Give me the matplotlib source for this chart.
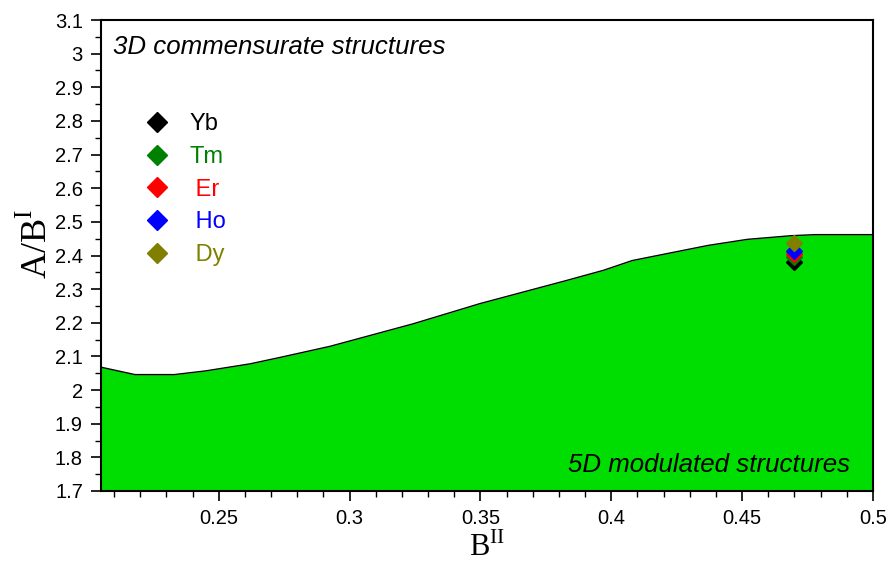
import matplotlib
matplotlib.use("Agg")
import matplotlib.pyplot as plt

# Phase boundary between the 5D modulated and 3D commensurate regions
boundary_x = [0.205, 0.218, 0.233, 0.245, 0.262, 0.2734, 0.2925, 0.3243, 0.3498,
              0.383, 0.397, 0.408, 0.437, 0.452, 0.469, 0.478, 0.5]
boundary_y = [2.068, 2.046, 2.046, 2.057, 2.078, 2.097, 2.130, 2.197, 2.257,
              2.326, 2.356, 2.385, 2.430, 2.448, 2.459, 2.462, 2.462]

# Rare-earth compounds
elements = ["Yb", "Tm", "Er", "Ho", "Dy"]
legend_labels = ["Yb", "Tm", " Er", " Ho", " Dy"]
elem_x = [0.47, 0.47, 0.47, 0.47, 0.47]
elem_y = [2.382, 2.396, 2.405, 2.412, 2.437]
elem_colors = ["#000000", "#008000", "#ff0000", "#0000ff", "#808000"]

x_ticks = [0.25, 0.3, 0.35, 0.4, 0.45, 0.5]
x_ticklabels = ["0.25", "0.3", "0.35", "0.4", "0.45", "0.5"]
y_ticks = [1.7, 1.8, 1.9, 2.0, 2.1, 2.2, 2.3, 2.4, 2.5, 2.6, 2.7, 2.8, 2.9, 3.0, 3.1]
y_ticklabels = ["1.7", "1.8", "1.9", "2", "2.1", "2.2", "2.3", "2.4", "2.5",
                "2.6", "2.7", "2.8", "2.9", "3", "3.1"]

plt.rcParams["font.family"] = ["Liberation Sans", "DejaVu Sans"]
plt.rcParams["mathtext.fontset"] = "custom"
plt.rcParams["mathtext.rm"] = "Liberation Serif"

fig = plt.figure(figsize=(8.9, 5.63), dpi=100)
ax = fig.add_axes([101 / 890, 72 / 563, 772 / 890, 471 / 563])

ax.fill_between(boundary_x, 1.7, boundary_y, color="#00dd00", linewidth=0, zorder=1)
ax.plot(boundary_x, boundary_y, color="black", linewidth=1.0, zorder=2)

for name, lab, x, y, c in zip(elements, legend_labels, elem_x, elem_y, elem_colors):
    ax.plot([x], [y], linestyle="none", marker="D", markersize=8.5,
            color=c, label=lab, zorder=3)

ax.set_xlim(0.205, 0.5)
ax.set_ylim(1.7, 3.1)
ax.set_xticks(x_ticks)
ax.set_xticklabels(x_ticklabels)
ax.set_yticks(y_ticks)
ax.set_yticklabels(y_ticklabels)
ax.set_xticks([0.21 + 0.01 * i for i in range(30)], minor=True)
ax.set_yticks([1.75 + 0.1 * i for i in range(14)], minor=True)
ax.tick_params(axis="both", which="major", direction="out", length=7, width=1.2,
               labelsize=14.5, top=False, right=False)
ax.tick_params(axis="both", which="minor", direction="out", length=4, width=1.0,
               top=False, right=False)
ax.tick_params(axis="x", pad=6)
ax.tick_params(axis="y", pad=6)
for sp in ax.spines.values():
    sp.set_linewidth(1.5)

ax.set_xlabel(r"$\mathrm{B}^{\mathrm{II}}$", fontsize=22, labelpad=3)
ax.set_ylabel(r"$\mathrm{A/B}^{\mathrm{I}}$", fontsize=26)
ax.yaxis.set_label_coords(-0.060, 0.525)

ax.text(0.0155, 0.928, "3D commensurate structures", transform=ax.transAxes,
        fontsize=18.6, style="italic", ha="left", va="baseline")
ax.text(0.970, 0.040, "5D modulated structures", transform=ax.transAxes,
        fontsize=18.6, style="italic", ha="right", va="baseline")

leg = ax.legend(loc="upper left", bbox_to_anchor=(0.047, 0.822), frameon=False,
                fontsize=17, handlelength=0.9, handletextpad=0.9,
                labelspacing=0.45, markerscale=1.15, labelcolor=elem_colors,
                borderaxespad=0)

fig.savefig("out.png", dpi=100)
